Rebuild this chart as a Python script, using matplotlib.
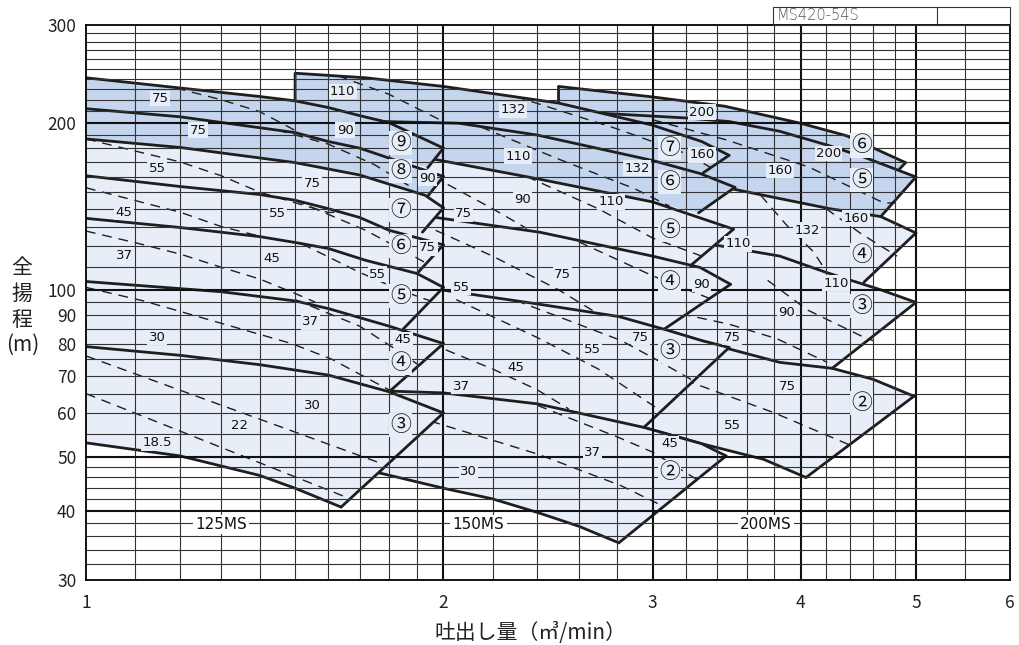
import matplotlib
matplotlib.use('Agg')
import matplotlib.pyplot as plt
from matplotlib.ticker import FixedLocator, FixedFormatter, NullLocator
from matplotlib.patches import Rectangle

plt.rcParams['font.family'] = ['Noto Sans CJK JP', 'DejaVu Sans']

# grid positions (log paper)
x_grid = [1.1, 1.2, 1.3, 1.4, 1.5, 1.6, 1.7, 1.8, 1.9, 2.2, 2.4, 2.6, 2.8, 3.2, 3.4,
          3.6, 3.8, 4.2, 4.4, 4.6, 4.8, 5.5]
x_grid_major = [2, 3, 4, 5]
y_grid = [32, 34, 36, 38, 42, 44, 46, 48, 55, 60, 65, 70, 75, 80, 85, 90, 95,
          110, 120, 130, 140, 150, 160, 170, 180, 190, 210, 220, 230, 240, 250,
          260, 270, 280, 290]
y_grid_major = [40, 50, 100, 200]
x_ticks = [1, 2, 3, 4, 5, 6]
y_ticks = [30, 40, 50, 60, 70, 80, 90, 100, 200, 300]

# ---- 125MS head curves (Q m3/min, H m) ----
ms125_b = [(1.0, 53), (1.2, 50.2), (1.4, 46.3), (1.5, 43.9), (1.64, 40.6)]
ms125_t3 = [(1.0, 79), (1.2, 76.2), (1.4, 73.3), (1.6, 70.2), (1.8, 65.5), (2.0, 60)]
ms125_t4 = [(1.0, 103.5), (1.3, 99.2), (1.5, 95.5), (1.6, 92.5), (1.8, 86), (2.0, 80)]
ms125_t5 = [(1.0, 134.5), (1.2, 129.5), (1.4, 124.7), (1.5, 121.7), (1.6, 118.7),
            (1.72, 113), (1.9, 107), (2.0, 101)]
ms125_t6 = [(1.0, 160.5), (1.2, 153.5), (1.4, 148.5), (1.5, 145), (1.6, 140),
            (1.7, 135), (1.8, 128), (2.0, 120.5)]
ms125_t7 = [(1.0, 187), (1.2, 180.5), (1.5, 169.5), (1.7, 161), (1.93, 148), (2.0, 140.5)]
ms125_t8 = [(1.0, 212), (1.2, 205), (1.5, 192), (1.6, 185), (1.7, 180), (2.0, 160)]
ms125_t9 = [(1.0, 241), (1.2, 231), (1.4, 223), (1.5, 219), (1.6, 213), (1.7, 206),
            (1.8, 200), (2.0, 180)]
ms125_diag = [(1.64, 40.6), (1.8, 65.5), (1.85, 85), (1.9, 107), (1.92, 127),
              (1.94, 147.5), (1.94, 166)]

# ---- 150MS ----
ms150_b = [(1.6, 49), (1.78, 46.6), (2.0, 43.9), (2.2, 42.0), (2.4, 39.7), (2.6, 37.5),
           (2.81, 35.0)]
ms150_t2 = [(1.6, 67), (1.8, 65.7), (2.0, 65.2), (2.4, 62.3), (2.95, 56.5), (3.3, 52.8),
            (3.46, 50.2)]
ms150_t3 = [(1.7, 104), (1.99, 100), (2.4, 94.3), (2.81, 89.5), (3.08, 84.7), (3.3, 81),
            (3.48, 78.7)]
ms150_t4 = [(1.8, 138), (1.97, 135), (2.41, 127), (3.0, 115), (3.29, 109.7), (3.49, 102.3)]
ms150_t5 = [(1.8, 176), (1.96, 172), (2.4, 158.5), (3.0, 144), (3.51, 128.6)]
ms150_t6 = [(1.7, 205), (1.78, 201), (2.06, 199.6), (2.4, 190), (3.0, 171), (3.29, 162),
            (3.52, 153)]
ms150_t7 = [(1.5, 219), (1.5, 245.6), (1.72, 241), (2.0, 232.5), (2.5, 217), (3.0, 198),
            (3.3, 185), (3.48, 174.7)]
ms150_diag = [(2.81, 35.0), (2.95, 56.5), (3.07, 85), (3.23, 110.6), (3.28, 137.6),
              (3.31, 162.5)]

# ---- 200MS ----
ms200_b = [(2.95, 56.5), (3.3, 52.8), (3.72, 49.5), (4.04, 45.9)]
ms200_t2 = [(3.0, 86), (3.46, 78.5), (3.84, 74), (4.25, 72.2), (4.6, 69), (4.98, 64.3)]
ms200_t3 = [(3.1, 124), (3.42, 120), (3.84, 115), (4.2, 107.5), (4.67, 100), (5.0, 94.9)]
ms200_t4 = [(3.2, 157), (3.5, 152), (3.84, 146), (4.23, 140), (4.67, 135.5), (5.0, 126.6)]
ms200_t5 = [(2.5, 214), (2.72, 208), (3.2, 204), (3.48, 201), (3.84, 193), (4.22, 182),
            (4.5, 174), (5.0, 159.7)]
ms200_t6 = [(2.5, 217), (2.5, 232.5), (3.0, 222.6), (3.45, 214.2), (4.0, 199.5),
            (4.37, 189.5), (4.9, 169.5)]
ms200_diag = [(4.04, 45.9), (4.25, 72.2), (4.52, 103.2), (4.67, 135.5), (4.84, 164.8)]

# ---- kW dividing lines (dashed) ----
ms125_kw = [
    [(1.0, 65), (1.67, 42)],
    [(1.0, 76), (1.78, 48.5)],
    [(1.0, 101), (1.12, 95.4), (1.49, 80), (1.61, 75), (1.8, 66)],
    [(1.5, 96), (1.7, 86), (1.86, 76), (1.9, 73.5)],
    [(1.0, 127.6), (1.1, 121.6), (1.2, 116), (1.3, 109.8), (1.4, 104.6), (1.5, 98.5),
     (1.56, 95)],
    [(1.52, 121), (1.7, 107.5), (1.84, 99.8), (1.95, 95.5)],
    [(1.0, 152.7), (1.2, 138), (1.3, 130), (1.42, 124)],
    [(1.5, 145), (1.72, 128), (1.93, 112)],
    [(1.0, 187), (1.075, 180), (1.2, 170), (1.3, 160.5), (1.4, 150), (1.5, 143.5),
     (1.6, 137.8), (1.63, 138)],
    [(1.45, 194), (1.6, 183), (1.75, 168), (1.88, 153)],
    [(1.19, 231), (1.3, 220), (1.4, 209.5), (1.51, 192.3)],
]
ms150_kw = [
    [(1.95, 58), (2.4, 50.6), (2.82, 44.4), (3.03, 41.2)],
    [(2.4, 61.9), (2.82, 54), (3.0, 51), (3.27, 45.5)],
    [(1.95, 80), (2.2, 72), (2.4, 66), (2.55, 61)],
    [(2.05, 96), (2.4, 82), (2.7, 72), (3.05, 60.5)],
    [(2.3, 95.7), (2.82, 81.1), (3.0, 75.5), (3.25, 68.5)],
    [(1.97, 128), (2.2, 115), (2.5, 100), (2.7, 90.5)],
    [(2.6, 122), (3.0, 106), (3.35, 96.5)],
    [(1.96, 160), (2.2, 140), (2.35, 129)],
    [(2.35, 160), (2.7, 140), (3.0, 124), (3.3, 115)],
    [(2.15, 196.5), (2.5, 172), (2.9, 152), (3.1, 141.5)],
    [(1.63, 243), (1.8, 225), (2.0, 201)],
    [(2.3, 223), (2.8, 195), (3.2, 176), (3.36, 166)],
]
ms200_kw = [
    [(3.0, 71.5), (3.24, 68), (3.8, 60), (4.4, 52.5)],
    [(3.17, 90.5), (3.48, 86.7), (3.82, 81.6), (4.21, 74)],
    [(3.75, 104), (4.05, 92), (4.5, 82.5), (4.6, 81)],
    [(3.7, 148), (3.9, 130), (4.1, 117), (4.2, 108)],
    [(4.2, 140), (4.5, 126), (4.82, 115)],
    [(3.0, 202.5), (3.46, 186.3), (4.06, 166.5), (4.7, 143.3), (4.8, 143.5)],
]

# ---- labels ----
kw_text = ['75', '75', '55', '45', '37', '30', '18.5', '22', '30', '37', '45', '55', '75',
           '90', '110', '90', '75', '55', '45',
           '132', '110', '90', '75', '75', '55', '132', '110', '160', '90', '75', '55',
           '45', '37', '37', '45', '30',
           '200', '200', '160', '160', '132', '110', '110', '90', '75', '75', '55']
kw_q = [1.155, 1.243, 1.148, 1.077, 1.077, 1.148, 1.148, 1.348, 1.55, 1.545, 1.434, 1.45,
        1.55, 1.653, 1.645, 1.94, 1.94, 1.76, 1.85,
        2.29, 2.31, 2.33, 2.08, 2.52, 2.07, 2.91, 2.77, 3.3, 3.3, 2.93, 2.67,
        2.3, 2.07, 2.67, 3.1, 2.1,
        3.3, 4.22, 3.84, 4.45, 4.05, 3.54, 4.28, 3.89, 3.5, 3.9, 3.5]
kw_h = [221, 194, 165.7, 138, 115.4, 82, 53, 57, 62, 87.6, 113.7, 137, 155.5, 194, 227.6,
        159, 119, 106.7, 81.4,
        211, 174, 145.6, 137, 106.7, 101, 165.6, 144, 175, 102.4, 82, 78,
        72.3, 67, 51, 52.8, 47,
        209, 176, 164, 134.6, 128, 121, 102.8, 91, 82, 67, 57]

stage_text = ['⑨', '⑧', '⑦', '⑥', '⑤', '④', '③',
              '⑦', '⑥', '⑤', '④', '③', '②',
              '⑥', '⑤', '④', '③', '②']
stage_q = [1.84, 1.84, 1.84, 1.84, 1.84, 1.84, 1.84,
           3.1, 3.1, 3.1, 3.1, 3.1, 3.1,
           4.5, 4.5, 4.5, 4.5, 4.5]
stage_h = [184, 163.5, 139.5, 120, 97.3, 73.7, 57,
           180, 156.5, 128, 103.5, 77.5, 47,
           182, 158, 115.5, 93.5, 62.5]

series_text = ['125MS', '150MS', '200MS']
series_q = [1.3, 2.14, 3.74]
series_h = [37.8, 37.8, 37.8]

light = '#e8eef8'
dark = '#c5d5ee'
line_c = '#1e1e1e'

fig = plt.figure(figsize=(10.2, 6.45), dpi=100)
ax = fig.add_axes([86 / 1020, 65 / 645, 924 / 1020, 555 / 645])
ax.set_xscale('log')
ax.set_yscale('log')
ax.set_xlim(1, 6)
ax.set_ylim(30, 300)


def xy(pts):
    return [p[0] for p in pts], [p[1] for p in pts]


def draw_series(base, tops, diags, kw_lines, dark_from, z):
    lowers = [base] + tops[:-1]
    for i, (lo, d, up) in enumerate(zip(lowers, diags, tops)):
        part = [p for p in lo if p[0] < d[0]] + [d]
        poly = part + up[::-1]
        ax.fill(*xy(poly), color=dark if i >= dark_from else light, lw=0, zorder=z)
    for seg in kw_lines:
        ax.plot(*xy(seg), color=line_c, lw=1.0, ls=(0, (7, 5)), zorder=z + 0.3)
    for c in [base] + tops:
        ax.plot(*xy(c), color=line_c, lw=2.0, zorder=z + 0.5,
                solid_joinstyle='round', solid_capstyle='round')
    for d, up in zip(diags, tops):
        ax.plot([d[0], up[-1][0]], [d[1], up[-1][1]], color=line_c, lw=2.0,
                zorder=z + 0.5, solid_capstyle='round')


draw_series(ms200_b, [ms200_t2, ms200_t3, ms200_t4, ms200_t5, ms200_t6], ms200_diag,
            ms200_kw, 3, 1)
draw_series(ms150_b, [ms150_t2, ms150_t3, ms150_t4, ms150_t5, ms150_t6, ms150_t7],
            ms150_diag, ms150_kw, 4, 3)
draw_series(ms125_b, [ms125_t3, ms125_t4, ms125_t5, ms125_t6, ms125_t7, ms125_t8, ms125_t9],
            ms125_diag, ms125_kw, 5, 5)

# grid
for v in x_grid:
    ax.axvline(v, color='#333333', lw=0.8, zorder=5.8)
for v in x_grid_major:
    ax.axvline(v, color='#111111', lw=1.5, zorder=5.8)
for v in y_grid:
    ax.axhline(v, color='#333333', lw=0.8, zorder=5.8)
for v in y_grid_major:
    ax.axhline(v, color='#111111', lw=1.5, zorder=5.8)

for t, q, h in zip(kw_text, kw_q, kw_h):
    ax.text(q, h, t, ha='center', va='center', fontsize=9.5, family='DejaVu Sans',
            color='#111111', zorder=8,
            bbox=dict(boxstyle='square,pad=0.1', fc=light, ec='none'))
for t, q, h in zip(stage_text, stage_q, stage_h):
    ax.text(q, h, t, ha='center', va='center', fontsize=15, color='#111111', zorder=8,
            bbox=dict(boxstyle='square,pad=0.05', fc=light, ec='none'))
for t, q, h in zip(series_text, series_q, series_h):
    ax.text(q, h, t, ha='center', va='center', fontsize=11, family='DejaVu Sans',
            color='#111111', zorder=8,
            bbox=dict(boxstyle='square,pad=0.15', fc='white', ec='none'))

for s in ax.spines.values():
    s.set_linewidth(1.3)
    s.set_zorder(9)

ax.xaxis.set_major_locator(FixedLocator(x_ticks))
ax.xaxis.set_major_formatter(FixedFormatter([str(v) for v in x_ticks]))
ax.xaxis.set_minor_locator(NullLocator())
ax.yaxis.set_major_locator(FixedLocator(y_ticks))
ax.yaxis.set_major_formatter(FixedFormatter([str(v) for v in y_ticks]))
ax.yaxis.set_minor_locator(NullLocator())
ax.tick_params(length=0, labelsize=12.5, colors='#222222')
ax.tick_params(axis='x', pad=10)
ax.tick_params(axis='y', pad=7)

# y label (vertical stack)
for t, yy in zip(['全', '揚', '程'], [268, 294, 320]):
    fig.text(22 / 1020, 1 - yy / 645, t, ha='center', va='center', fontsize=15,
             color='#222222')
fig.text(23 / 1020, 1 - 345 / 645, '(m)', ha='center', va='center', fontsize=15,
         color='#222222')
fig.text(530 / 1020, 1 - 633 / 645, '吐出し量（㎥/min）', ha='center', va='center',
         fontsize=15, color='#222222')

# model box
fig.add_artist(Rectangle((773 / 1020, 1 - 25 / 645), 237 / 1020, 18 / 645,
                         transform=fig.transFigure, fill=False, lw=0.8, ec='#333333'))
fig.add_artist(plt.Line2D([937 / 1020, 937 / 1020], [1 - 25 / 645, 1 - 7 / 645],
                          transform=fig.transFigure, lw=0.8, color='#333333'))
fig.text(777 / 1020, 1 - 16 / 645, 'MS420-54S', ha='left', va='center', fontsize=10.5,
         family='DejaVu Sans', fontweight='light', color='#555555')

fig.savefig('out.png', dpi=100)
